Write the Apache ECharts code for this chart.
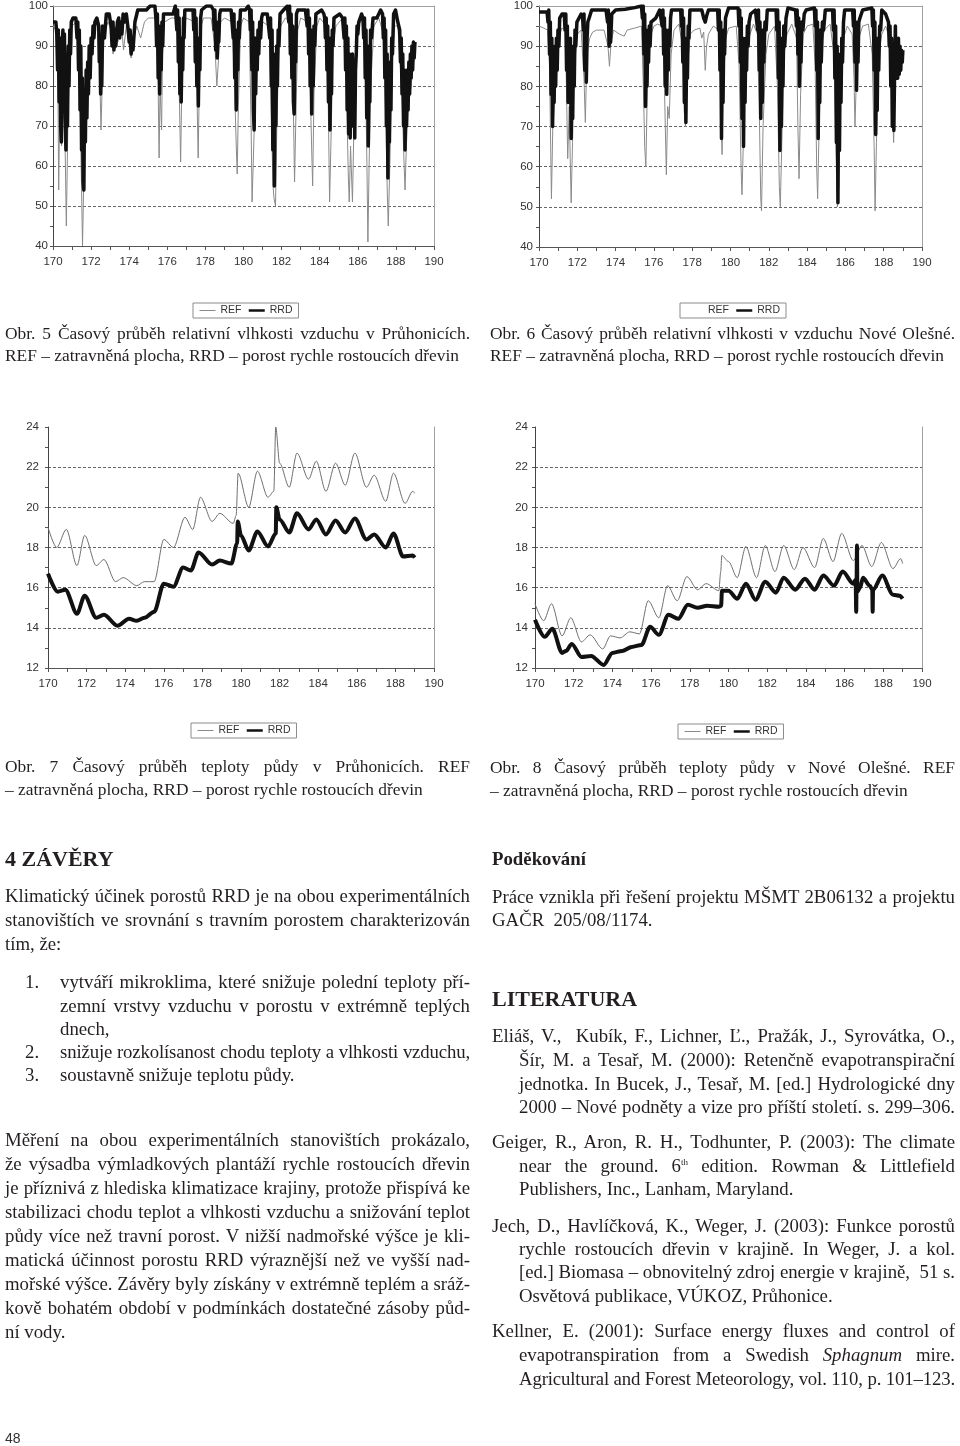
<!DOCTYPE html>
<html><head><meta charset="utf-8">
<script src="https://cdn.jsdelivr.net/npm/echarts@6/dist/echarts.min.js"></script>
<style>
html,body{margin:0;padding:0;background:#fff;}
#page{position:relative;width:960px;height:1446px;overflow:hidden;background:#fff;}
#chart{position:absolute;left:0;top:0;width:960px;height:1446px;}
.ln{position:absolute;white-space:nowrap;font-family:"Liberation Serif",serif;font-size:18.8px;line-height:24px;color:#231f20;}
.j{text-align:justify;text-align-last:justify;}
.cap{font-size:17.4px;}
.h{font-weight:bold;font-size:22px;}
.b{font-weight:bold;}
sup{font-size:9px;line-height:0;vertical-align:7px;}
</style></head><body>
<div id="page"><div id="chart"></div><div id="txt"></div></div>
<script>
// ---- DATA (day of year, value) ----
const rh5REF = [[170.0,95],[170.15,94],[170.25,85],[170.3,54],[170.35,75],[170.45,65],[170.55,85],[170.62,70],[170.7,45],[170.78,70],[170.9,93],[171.0,95],[171.2,96],[171.35,88],[171.45,68],[171.55,40],[171.62,58],[171.72,70],[171.85,80],[172.0,88],[172.2,95],[172.35,96],[172.45,84],[172.52,69],[172.58,80],[172.7,94],[172.9,96],[173.1,93],[173.15,88],[173.3,95],[173.4,91],[173.6,95],[173.7,89],[173.85,95],[174.0,90],[174.1,87],[174.25,92],[174.4,95],[174.6,92],[174.8,96],[175.0,97],[175.45,97],[175.52,80],[175.57,62],[175.62,80],[175.7,69],[175.75,88],[175.85,96],[176.2,97],[176.5,97],[176.6,85],[176.7,61],[176.76,80],[176.85,95],[177.0,97],[177.45,96],[177.55,80],[177.62,62],[177.68,80],[177.78,95],[177.9,97],[178.3,97],[178.5,90],[178.6,80],[178.68,86],[178.8,96],[179.0,97],[179.4,96],[179.5,85],[179.62,65],[179.67,58],[179.73,75],[179.85,95],[180.0,97],[180.3,96],[180.4,70],[180.45,51],[180.52,62],[180.6,76],[180.7,85],[180.85,94],[181.0,96],[181.35,95],[181.45,75],[181.55,55],[181.6,52],[181.68,50],[181.75,70],[181.85,88],[181.95,95],[182.2,97],[182.5,96],[182.6,80],[182.68,56],[182.74,70],[182.85,94],[183.0,97],[183.4,96],[183.5,80],[183.58,64],[183.63,55],[183.7,78],[183.85,95],[184.0,97],[184.35,95],[184.45,75],[184.52,51],[184.6,68],[184.7,90],[184.85,95],[185.2,97],[185.35,92],[185.5,58],[185.55,51],[185.62,65],[185.72,51],[185.78,66],[185.9,90],[186.0,95],[186.3,97],[186.4,85],[186.48,60],[186.53,41],[186.6,62],[186.7,82],[186.85,95],[187.1,97],[187.35,93],[187.45,75],[187.55,53],[187.6,45],[187.68,60],[187.8,85],[187.92,95],[188.1,95],[188.3,80],[188.42,62],[188.48,54],[188.55,65],[188.65,75],[188.8,80],[188.9,85],[189.0,88]];
const rh5RRD = [[170.0,96],[170.15,96],[170.2,93],[170.24,84],[170.28,94],[170.32,76],[170.36,92],[170.4,70],[170.44,66],[170.48,90],[170.52,94],[170.56,80],[170.6,93],[170.64,72],[170.68,64],[170.72,88],[170.76,70],[170.8,90],[170.84,80],[170.88,94],[170.92,88],[170.96,96],[171.05,97],[171.2,97],
[171.22,97],[171.26,92],[171.3,96],[171.34,84],[171.38,94],[171.42,74],[171.46,90],[171.5,64],[171.54,82],[171.58,56],[171.62,54],[171.66,78],[171.7,66],[171.74,84],[171.78,72],[171.82,86],[171.86,78],[171.9,90],[171.95,82],[172.0,92],[172.05,88],[172.1,95],[172.15,92],[172.2,96],[172.3,97],
[172.4,95],[172.43,86],[172.46,93],[172.5,78],[172.53,88],[172.56,80],[172.6,95],[172.7,92],[172.8,98],[172.95,98],
[173.05,95],[173.1,90],[173.15,96],[173.2,89],[173.25,94],[173.3,90],[173.38,96],[173.45,97],[173.5,92],[173.55,96],[173.62,93],[173.68,98],[173.75,96],[173.85,98],[173.95,94],[174.0,91],[174.05,94],[174.1,88],[174.15,91],[174.2,89],[174.3,96],[174.45,99],[174.9,99],[175.1,100],[175.35,100],
[175.4,97],[175.44,90],[175.48,98],[175.52,82],[175.56,95],[175.6,78],[175.64,92],[175.68,84],[175.72,96],[175.76,90],[175.8,98],[175.87,98],[176.3,98],[176.42,100],
[176.46,100],[176.5,94],[176.54,99],[176.58,86],[176.62,97],[176.66,78],[176.7,92],[176.73,76],[176.77,90],[176.81,84],[176.85,97],[176.88,92],[176.92,99],[177.2,99],
[177.35,99],[177.39,94],[177.43,99],[177.47,86],[177.51,97],[177.55,80],[177.59,92],[177.63,75],[177.67,90],[177.71,84],[177.75,97],[177.8,99],[178.05,100],[178.3,100],
[178.42,99],[178.46,94],[178.5,99],[178.54,89],[178.58,96],[178.62,87],[178.66,94],[178.7,91],[178.75,98],[178.8,99],[179.35,99],
[179.42,99],[179.46,92],[179.5,98],[179.54,82],[179.58,94],[179.62,74],[179.66,90],[179.7,84],[179.74,96],[179.78,92],[179.84,99],[180.1,99],[180.25,100],
[180.32,99],[180.36,94],[180.4,99],[180.44,84],[180.48,96],[180.52,74],[180.56,69],[180.6,92],[180.64,78],[180.68,90],[180.72,84],[180.76,94],[180.8,88],[180.85,96],[180.9,92],[180.95,97],[181.0,98],[181.25,98],
[181.34,98],[181.38,92],[181.42,97],[181.46,80],[181.5,94],[181.54,64],[181.58,88],[181.62,55],[181.66,82],[181.7,70],[181.74,90],[181.78,80],[181.82,94],[181.86,90],[181.92,98],[182.1,99],[182.3,100],
[182.34,100],[182.38,96],[182.42,100],[182.46,88],[182.5,98],[182.54,82],[182.58,95],[182.62,76],[182.66,73],[182.7,92],[182.74,86],[182.78,98],[182.85,99],[183.25,99],
[183.3,99],[183.34,95],[183.38,99],[183.42,88],[183.46,97],[183.5,80],[183.54,94],[183.58,73],[183.62,90],[183.66,80],[183.7,95],[183.74,90],[183.8,98],[184.1,99],[184.22,98],
[184.26,97],[184.3,92],[184.34,97],[184.38,84],[184.42,95],[184.46,76],[184.5,92],[184.54,69],[184.58,88],[184.62,78],[184.66,94],[184.7,90],[184.75,97],[184.85,97],[185.05,98],[185.2,97],
[185.24,97],[185.28,92],[185.32,97],[185.36,84],[185.4,95],[185.44,74],[185.48,92],[185.52,68],[185.56,88],[185.6,67],[185.64,86],[185.68,72],[185.72,88],[185.76,70],[185.8,86],[185.84,67],[185.88,84],[185.92,88],[185.96,95],[186.0,93],[186.05,96],[186.2,98],
[186.27,97],[186.31,92],[186.35,97],[186.39,82],[186.43,94],[186.47,72],[186.51,90],[186.55,65],[186.59,86],[186.63,76],[186.67,94],[186.72,92],[186.8,97],[187.0,97],[187.2,99],
[187.3,98],[187.34,92],[187.38,97],[187.42,82],[187.46,94],[187.5,70],[187.54,88],[187.58,57],[187.62,84],[187.66,66],[187.7,86],[187.74,74],[187.78,92],[187.82,88],[187.88,98],[187.98,99],[188.1,96],
[188.2,94],[188.24,86],[188.28,92],[188.32,78],[188.36,88],[188.4,70],[188.44,84],[188.48,64],[188.52,80],[188.56,70],[188.6,84],[188.64,74],[188.68,86],[188.72,78],[188.76,88],[188.8,82],[188.84,90],[188.88,84],[188.92,91],[188.96,87],[189.0,91]];
const rh6REF = [[170.0,95],[170.25,94.5],[170.45,94],[170.55,85],[170.65,52],[170.72,70],[170.8,75],[170.9,88],[171.0,92],[171.2,94.5],[171.38,94],[171.45,75],[171.5,62],[171.58,75],[171.63,62],[171.68,51],[171.75,66],[171.85,85],[172.0,93],[172.2,94],[172.35,82],[172.42,71],[172.5,88],[172.65,92],[172.8,93.5],[173.0,94],[173.4,94],[173.6,90],[173.68,85],[173.76,91],[173.9,94],[174.2,93],[174.45,92.5],[174.6,94],[175.0,94.5],[175.35,95],[175.45,80],[175.52,65],[175.58,60],[175.64,75],[175.72,88],[175.85,93],[176.0,95],[176.2,95.5],[176.45,95],[176.55,80],[176.65,58],[176.72,75],[176.8,72],[176.9,88],[177.05,94],[177.3,95.5],[177.5,90],[177.58,74],[177.65,70],[177.75,85],[177.9,93],[178.1,94],[178.4,94.5],[178.5,92],[178.6,93.5],[178.68,84],[178.75,90],[178.85,93],[179.1,95],[179.4,94],[179.5,75],[179.56,63],[179.62,80],[179.75,92],[179.9,94.5],[180.3,95],[180.45,85],[180.55,60],[180.6,53],[180.68,68],[180.8,85],[180.95,92],[181.2,95.5],[181.4,93],[181.5,75],[181.58,52],[181.62,49],[181.7,70],[181.85,88],[182.0,93],[182.3,95],[182.45,80],[182.55,55],[182.6,50],[182.68,66],[182.8,88],[182.95,93],[183.2,95.5],[183.45,92],[183.52,70],[183.58,57],[183.66,78],[183.8,93],[184.0,95],[184.3,95.5],[184.42,85],[184.5,60],[184.55,52],[184.62,68],[184.75,90],[184.9,94],[185.2,95.5],[185.4,88],[185.5,65],[185.58,50],[185.65,55],[185.75,80],[185.9,92],[186.1,95],[186.35,93],[186.45,82],[186.5,70],[186.56,80],[186.7,92],[186.9,95],[187.2,95.5],[187.4,88],[187.5,65],[187.55,49],[187.62,66],[187.75,88],[187.9,93],[188.1,95],[188.3,92],[188.45,75],[188.52,66],[188.58,80],[188.7,88],[188.85,85],[189.0,88]];
const rh6RRD = [[170.0,98.5],[170.42,98.5],[170.47,96],[170.51,99],[170.55,88],[170.59,96],[170.63,78],[170.67,92],[170.71,70],[170.75,88],[170.79,76],[170.83,90],[170.87,80],[170.91,92],[170.95,84],[170.99,94],[171.04,90],[171.08,97],[171.2,98],[171.32,98],
[171.36,94],[171.4,98],[171.44,84],[171.48,95],[171.52,76],[171.56,90],[171.6,82],[171.64,92],[171.68,67],[171.72,86],[171.76,72],[171.8,90],[171.84,80],[171.88,94],[171.92,90],[171.98,96],[172.05,96],[172.2,98],[172.28,97],
[172.31,94],[172.35,98],[172.39,84],[172.43,94],[172.47,81],[172.51,92],[172.55,96],[172.62,97],[172.75,99],[173.5,99],[173.58,96],[173.62,99],[173.66,90],[173.7,96],[173.74,91],[173.8,98],[174.0,99],[174.5,99.2],[175.0,99.6],[175.35,100],
[175.4,97],[175.44,100],[175.48,88],[175.52,98],[175.56,75],[175.6,94],[175.64,80],[175.68,92],[175.72,86],[175.76,95],[175.8,90],[175.85,96],[175.95,96],[176.1,97],[176.3,99],[176.39,99],
[176.43,95],[176.47,99],[176.51,88],[176.55,97],[176.59,80],[176.63,94],[176.67,78],[176.71,90],[176.75,84],[176.79,94],[176.83,90],[176.87,97],[176.92,99],[177.4,99],
[177.43,95],[177.47,99],[177.51,86],[177.55,97],[177.59,76],[177.63,92],[177.67,71],[177.71,88],[177.75,82],[177.79,95],[177.83,92],[177.88,99],[178.5,99],[178.6,97],[178.68,96],[178.75,97.5],[178.85,99],[179.33,99],
[179.37,94],[179.41,99],[179.45,84],[179.49,96],[179.53,67],[179.57,92],[179.61,76],[179.65,94],[179.69,88],[179.74,97],[179.8,98],[179.9,99.5],[180.4,99.5],
[180.44,95],[180.48,99],[180.52,86],[180.56,97],[180.6,72],[180.64,92],[180.68,65],[180.72,88],[180.76,76],[180.8,92],[180.84,84],[180.88,95],[180.92,90],[180.97,96],[181.05,98],[181.3,99],[181.38,99],
[181.42,94],[181.46,99],[181.5,84],[181.54,96],[181.58,72],[181.62,92],[181.66,76],[181.7,94],[181.74,86],[181.8,96],[181.86,94],[181.92,99],[182.38,99],
[182.42,94],[182.46,99],[182.5,82],[182.54,96],[182.58,64],[182.62,90],[182.66,70],[182.7,92],[182.74,80],[182.78,95],[182.83,90],[182.9,97],[183.0,99.5],[183.4,99],
[183.44,95],[183.48,99],[183.52,88],[183.56,97],[183.6,80],[183.64,94],[183.68,86],[183.72,96],[183.78,94],[183.85,98],[183.95,99],[184.38,99.5],
[184.42,95],[184.46,99],[184.5,84],[184.54,96],[184.58,67],[184.62,92],[184.66,76],[184.7,94],[184.74,86],[184.8,96],[184.86,94],[184.95,99],[185.33,99],
[185.37,94],[185.41,99],[185.45,82],[185.49,95],[185.53,66],[185.57,90],[185.61,51],[185.65,86],[185.69,64],[185.73,88],[185.77,76],[185.81,92],[185.85,86],[185.9,96],[185.96,99],[186.38,99],
[186.42,95],[186.46,99],[186.5,86],[186.54,96],[186.58,79],[186.62,92],[186.66,86],[186.7,96],[186.76,97],[186.9,99],[187.38,99.5],
[187.42,95],[187.46,99],[187.5,84],[187.54,96],[187.58,68],[187.62,90],[187.66,74],[187.7,92],[187.74,84],[187.79,95],[187.84,94],[187.9,99],[188.1,98],[188.25,96],
[188.29,90],[188.33,95],[188.37,80],[188.41,92],[188.45,70],[188.49,88],[188.53,69],[188.57,84],[188.61,95],[188.65,82],[188.69,90],[188.73,82],[188.77,92],[188.81,83],[188.85,90],[188.89,84],[188.93,89],[188.97,86],[189.0,89]];
const st7REF = [[170.0,19.0],[170.45,18.0],[170.95,18.9],[171.5,17.1],[171.9,18.6],[172.5,17.1],[172.9,17.4],[173.5,16.3],[173.9,16.5],[174.6,16.1],[175.0,16.3],[175.5,16.3],[176.0,18.4],[176.5,18.0],[177.1,19.5],[177.5,18.9],[177.9,20.5],[178.5,19.3],[178.9,19.7],[179.6,19.2],[179.75,19.6],[179.85,21.7],[180.4,20.0],[180.85,21.8],[181.4,20.5],[181.7,20.8],[181.8,24.0],[182.0,22.2],[182.5,21.0],[182.9,22.7],[183.5,21.4],[183.9,22.3],[184.4,20.8],[184.9,22.2],[185.4,21.1],[185.9,22.7],[186.5,21.0],[186.9,21.6],[187.5,20.3],[187.9,21.7],[188.5,20.2],[188.9,20.8],[189.0,20.7]];
const st7RRD = [[170.0,16.7],[170.5,15.8],[170.9,15.9],[171.5,14.7],[171.9,15.6],[172.5,14.5],[172.9,14.65],[173.6,14.1],[174.2,14.45],[174.6,14.35],[175.0,14.5],[175.5,14.8],[176.0,16.2],[176.5,16.05],[177.0,17.0],[177.4,16.85],[177.8,17.75],[178.5,17.15],[178.9,17.35],[179.5,17.2],[179.8,18.2],[179.83,19.3],[180.0,18.6],[180.4,17.85],[180.85,18.8],[181.4,18.05],[181.8,18.7],[181.83,20.0],[182.0,19.4],[182.5,18.75],[182.9,19.7],[183.5,18.9],[183.9,19.4],[184.4,18.65],[184.9,19.35],[185.4,18.75],[185.9,19.45],[186.5,18.4],[186.9,18.65],[187.5,18.0],[187.9,18.7],[188.4,17.55],[188.9,17.6],[189.0,17.5]];
const st8REF = [[170.0,15.2],[170.45,14.35],[170.85,15.2],[171.4,13.6],[171.85,14.5],[172.4,13.3],[172.85,13.65],[173.5,12.95],[173.9,13.6],[174.4,13.5],[174.9,13.8],[175.4,13.7],[175.85,15.35],[176.4,14.5],[176.85,16.1],[177.35,15.35],[177.85,16.55],[178.4,15.9],[178.85,16.2],[179.5,15.85],[179.6,16.8],[179.65,17.6],[180.0,17.3],[180.45,16.5],[180.9,18.05],[181.45,16.5],[181.9,18.1],[182.4,16.8],[182.85,18.1],[183.4,16.9],[183.85,18.0],[184.45,17.0],[184.9,18.45],[185.4,17.3],[185.85,18.7],[186.45,17.35],[186.9,18.1],[187.4,17.05],[187.9,18.25],[188.5,16.95],[188.9,17.45],[189.0,17.2]];
const st8RRD = [[170.0,14.4],[170.5,13.55],[170.9,13.95],[171.4,12.75],[171.6,12.85],[171.9,13.2],[172.4,12.55],[172.9,12.6],[173.55,12.15],[174.0,12.75],[174.5,12.85],[175.0,13.05],[175.5,13.15],[175.95,14.05],[176.4,13.65],[176.9,14.65],[177.4,14.45],[177.9,15.15],[178.4,15.0],[178.9,15.1],[179.5,15.05],[179.62,15.1],[179.66,15.85],[180.0,15.85],[180.45,15.45],[180.9,16.2],[181.4,15.4],[181.9,16.3],[182.45,15.75],[182.85,16.5],[183.45,15.9],[183.95,16.45],[184.45,15.9],[184.9,16.6],[185.45,16.1],[185.9,16.8],[186.45,16.2],[186.57,16.4],[186.6,14.8],[186.62,16.4],[186.64,18.1],[186.66,15.8],[186.8,16.0],[186.95,16.5],[187.3,16.1],[187.43,15.9],[187.45,14.8],[187.47,15.9],[187.95,16.6],[188.5,15.65],[188.85,15.6],[189.0,15.45]];
const seriesNames = ['REF','RRD'];
const xRange = [170,190];
const rhRange = [40,100];
const stRange = [12,24];

// ---- CHART ----
const FONT = '"Liberation Sans", Arial, sans-serif';
const panels = [
  {grid:{left:53,top:5,width:381,height:241}, yr:rhRange, yint:10, ref:rh5REF, rrd:rh5RRD, top:true, lg:{left:193,top:303}, rw:1, dw:3.5, refC:'#8a8a8a', ym:5, sm:false, hideRef:false},
  {grid:{left:539,top:5,width:383,height:242}, yr:rhRange, yint:10, ref:rh6REF, rrd:rh6RRD, top:true, lg:{left:680,top:303}, rw:1, dw:3.5, refC:'#8a8a8a', ym:6, sm:false, hideRef:true},
  {grid:{left:48,top:427,width:386,height:241}, yr:stRange, yint:2, ref:st7REF, rrd:st7RRD, top:false, lg:{left:191,top:723}, rw:1, dw:4, refC:'#6e6e6e', ym:9, sm:0.3, hideRef:false},
  {grid:{left:535,top:427,width:387,height:241}, yr:stRange, yint:2, ref:st8REF, rrd:st8RRD, top:false, lg:{left:678,top:724}, rw:1, dw:4, refC:'#6e6e6e', ym:7, sm:0.3, hideRef:false}
];
const opt = {animation:false, backgroundColor:'transparent', grid:[], xAxis:[], yAxis:[], series:[], legend:[]};
panels.forEach((p,i)=>{
  opt.grid.push(Object.assign({containLabel:false}, p.grid));
  const xi = opt.xAxis.length;
  opt.xAxis.push({gridIndex:i, type:'value', min:xRange[0], max:xRange[1], interval:2,
    axisLine:{show:true, onZero:false, lineStyle:{color:'#555', width:1}},
    axisTick:{show:true, length:4, lineStyle:{color:'#555'}},
    minorTick:{show:true, splitNumber:2, length:4, lineStyle:{color:'#555'}},
    axisLabel:{color:'#333', fontSize:11.5, fontFamily:FONT, margin:10},
    splitLine:{show:false}});
  if (p.top) opt.xAxis.push({gridIndex:i, type:'value', position:'top', min:xRange[0], max:xRange[1],
    axisLine:{show:true, onZero:false, lineStyle:{color:'#a0a0a0'}}, axisTick:{show:false}, axisLabel:{show:false}, splitLine:{show:false}});
  const yi = opt.yAxis.length;
  opt.yAxis.push({gridIndex:i, type:'value', min:p.yr[0], max:p.yr[1], interval:p.yint,
    axisLine:{show:true, onZero:false, lineStyle:{color:'#444', width:1}},
    axisTick:{show:true, length:3, lineStyle:{color:'#555'}},
    minorTick:{show:true, splitNumber:2, length:3, lineStyle:{color:'#555'}},
    axisLabel:{color:'#333', fontSize:11.5, fontFamily:FONT, margin:p.ym},
    splitLine:{show:true, showMinLine:false, showMaxLine:false, lineStyle:{color:'#666', width:1, type:[3,2]}}});
  opt.yAxis.push({gridIndex:i, type:'value', position:'right', min:p.yr[0], max:p.yr[1],
    axisLine:{show:true, onZero:false, lineStyle:{color:'#a0a0a0'}}, axisTick:{show:false}, axisLabel:{show:false}, splitLine:{show:false}});
  opt.series.push({name:seriesNames[0], type:'line', xAxisIndex:xi, yAxisIndex:yi, data:p.ref, symbol:'none', smooth:p.sm, smoothMonotone:'x',
    lineStyle:{color:p.refC, width:p.rw}, itemStyle:{color:p.refC}, z:2});
  opt.series.push({name:seriesNames[1], type:'line', xAxisIndex:xi, yAxisIndex:yi, data:p.rrd, symbol:'none', smooth:p.sm, smoothMonotone:'x',
    lineStyle:{color:'#111', width:p.dw, join:'round'}, itemStyle:{color:'#111'}, z:3});
  opt.legend.push({left:p.lg.left, top:p.lg.top, orient:'horizontal', selectedMode:false,
    itemWidth:16, itemHeight:8, itemGap:6, padding:[2,6,2,6], borderColor:'#8c8c8c', borderWidth:1,
    itemStyle:{opacity:0},
    textStyle:{fontSize:10.5, color:'#333', fontFamily:FONT},
    data:[p.hideRef ? {name:seriesNames[0], lineStyle:{opacity:0}} : {name:seriesNames[0], lineStyle:{width:1}}, {name:seriesNames[1], lineStyle:{width:2.5}}]});
});
const chart = echarts.init(document.getElementById('chart'), null, {renderer:'canvas'});
chart.setOption(opt);

// ---- TEXT ----
const L = [
 [5,334,465,'j cap','Obr. 5 Časový průběh relativní vlhkosti vzduchu v Průhonicích.'],
 [5,356,465,'cap','REF – zatravněná plocha, RRD – porost rychle rostoucích dřevin'],
 [490,334,465,'j cap','Obr. 6 Časový průběh relativní vlhkosti v vzduchu Nové Olešné.'],
 [490,356,465,'cap','REF – zatravněná plocha, RRD – porost rychle rostoucích dřevin'],
 [5,767,465,'j cap','Obr. 7 Časový průběh teploty půdy v Průhonicích. REF'],
 [5,790,465,'cap','– zatravněná plocha, RRD – porost rychle rostoucích dřevin'],
 [490,768,465,'j cap','Obr. 8 Časový průběh teploty půdy v Nové Olešné. REF'],
 [490,791,465,'cap','– zatravněná plocha, RRD – porost rychle rostoucích dřevin'],
 [5,860,465,'h','4 ZÁVĚRY'],
 [5,897,465,'j','Klimatický účinek porostů RRD je na obou experimentálních'],
 [5,921,465,'j','stanovištích ve srovnání s travním porostem charakterizován'],
 [5,945,465,'','tím, že:'],
 [25,983,30,'','1.'],
 [60,983,410,'j','vytváří mikroklima, které snižuje polední teploty pří-'],
 [60,1007,410,'j','zemní vrstvy vzduchu v porostu v extrémně teplých'],
 [60,1030,410,'','dnech,'],
 [25,1053,30,'','2.'],
 [60,1053,410,'j','snižuje rozkolísanost chodu teploty a vlhkosti vzduchu,'],
 [25,1076,30,'','3.'],
 [60,1076,410,'','soustavně snižuje teplotu půdy.'],
 [5,1141,465,'j','Měření na obou experimentálních stanovištích prokázalo,'],
 [5,1165,465,'j','že výsadba výmladkových plantáží rychle rostoucích dřevin'],
 [5,1189,465,'j','je příznivá z hlediska klimatizace krajiny, protože přispívá ke'],
 [5,1213,465,'j','stabilizaci chodu teplot a vlhkosti vzduchu a snižování teplot'],
 [5,1237,465,'j','půdy více než travní porost. V nižší nadmořské výšce je kli-'],
 [5,1261,465,'j','matická účinnost porostu RRD výraznější než ve vyšší nad-'],
 [5,1285,465,'j','mořské výšce. Závěry byly získány v extrémně teplém a sráž-'],
 [5,1309,465,'j','kově bohatém období v podmínkách dostatečné zásoby půd-'],
 [5,1333,465,'','ní vody.'],
 [492,860,463,'b','Poděkování'],
 [492,898,463,'j','Práce vznikla při řešení projektu MŠMT 2B06132 a projektu'],
 [492,921,463,'','GAČR&nbsp; 205/08/1174.'],
 [492,1000,463,'h','LITERATURA'],
 [492,1037,463,'j','Eliáš, V.,&nbsp; Kubík, F., Lichner, Ľ., Pražák, J., Syrovátka, O.,'],
 [519,1061,436,'j','Šír, M. a Tesař, M. (2000): Retenčně evapotranspirační'],
 [519,1085,436,'j','jednotka. In Bucek, J., Tesař, M. [ed.] Hydrologické dny'],
 [519,1108,436,'j','2000 – Nové podněty a vize pro příští století. s. 299–306.'],
 [492,1143,463,'j','Geiger, R., Aron, R. H., Todhunter, P. (2003): The climate'],
 [519,1167,436,'j','near the ground. 6<sup>th</sup> edition. Rowman &amp; Littlefield'],
 [519,1190,436,'','Publishers, Inc., Lanham, Maryland.'],
 [492,1227,463,'j','Jech, D., Havlíčková, K., Weger, J. (2003): Funkce porostů'],
 [519,1250,436,'j','rychle rostoucích dřevin v krajině. In Weger, J. a kol.'],
 [519,1273,436,'j','[ed.] Biomasa – obnovitelný zdroj energie v krajině,&nbsp; 51 s.'],
 [519,1297,436,'','Osvětová publikace, VÚKOZ, Průhonice.'],
 [492,1332,463,'j','Kellner, E. (2001): Surface energy fluxes and control of'],
 [519,1356,436,'j','evapotranspiration from a Swedish <i>Sphagnum</i> mire.'],
 [519,1380,436,'j','Agricultural and Forest Meteorology, vol. 110, p. 101–123.']
];
const box = document.getElementById('txt');
L.forEach(([x,y,w,cls,html])=>{
  const d = document.createElement('div');
  d.className = 'ln ' + cls;
  d.style.left = x + 'px'; d.style.top = (y-13) + 'px'; d.style.width = w + 'px';
  d.innerHTML = html;
  box.appendChild(d);
});
const pn = document.createElement('div');
pn.className='ln'; pn.style.cssText='left:5px;top:1426px;font-family:"Liberation Sans",sans-serif;font-size:14px;color:#333;';
pn.textContent='48'; box.appendChild(pn);
document.querySelectorAll('.ln').forEach(el=>{
  let ls = 0;
  while (el.scrollWidth > el.clientWidth + 0.5 && ls > -2) { ls -= 0.05; el.style.letterSpacing = ls + 'px'; }
});
</script>
</body></html>
